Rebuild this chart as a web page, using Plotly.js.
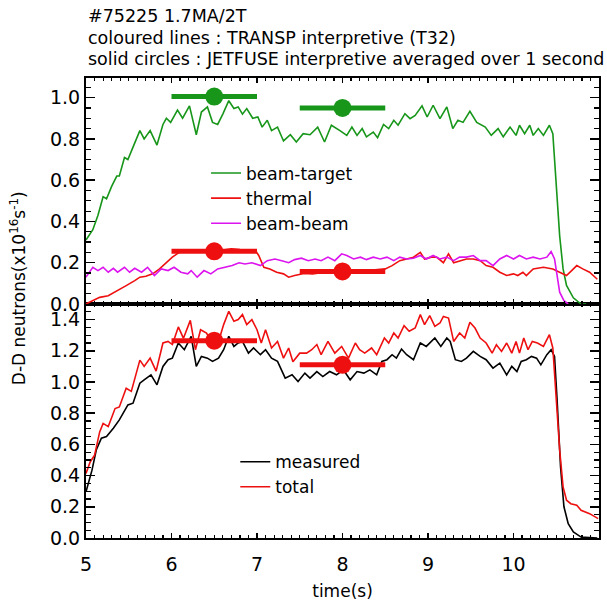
<!DOCTYPE html>
<html>
<head>
<meta charset="utf-8">
<script src="https://cdn.plot.ly/plotly-3.0.1.min.js"></script>
<style>html,body{margin:0;padding:0;background:#fff;}#chart{width:607px;height:602px;}</style>
</head>
<body>
<div id="chart"></div>
<script>
// ---- data (time in s, rate in 1e16 n/s) ----
const btT = [5.00,5.08,5.14,5.20,5.24,5.30,5.36,5.39,5.45,5.49,5.55,5.63,5.68,5.75,5.83,5.90,5.94,5.99,6.07,6.13,6.21,6.29,6.35,6.42,6.48,6.54,6.60,6.67,6.73,6.78,6.83,6.88,6.95,7.01,7.06,7.12,7.17,7.24,7.31,7.39,7.46,7.54,7.62,7.71,7.79,7.87,7.97,8.05,8.11,8.17,8.23,8.28,8.36,8.41,8.48,8.54,8.60,8.65,8.73,8.79,8.85,8.93,8.99,9.06,9.14,9.22,9.29,9.35,9.41,9.49,9.57,9.67,9.74,9.82,9.88,9.96,10.03,10.07,10.13,10.19,10.23,10.29,10.35,10.42,10.46,10.50,10.54,10.58,10.62,10.70,10.79,10.85];
const btV = [0.31,0.36,0.43,0.52,0.51,0.57,0.62,0.62,0.71,0.70,0.76,0.84,0.80,0.84,0.77,0.87,0.90,0.88,0.94,0.90,0.96,0.82,0.93,0.955,0.88,0.87,0.92,0.985,0.947,0.955,0.92,0.947,0.90,0.906,0.857,0.89,0.84,0.857,0.79,0.82,0.785,0.825,0.82,0.857,0.785,0.866,0.84,0.817,0.857,0.817,0.85,0.81,0.833,0.806,0.87,0.85,0.89,0.866,0.922,0.898,0.914,0.96,0.906,0.963,0.898,0.955,0.85,0.89,0.88,0.934,0.88,0.857,0.817,0.85,0.81,0.857,0.817,0.866,0.825,0.866,0.817,0.85,0.817,0.866,0.825,0.59,0.33,0.17,0.09,0.03,0.0,0.0];

const thT = [5.00,5.08,5.16,5.26,5.36,5.47,5.57,5.63,5.70,5.78,5.86,5.94,6.01,6.09,6.2,6.3,6.4,6.5,6.6,6.7,6.8,6.9,6.98,7.02,7.08,7.15,7.23,7.31,7.37,7.44,7.55,7.65,7.75,7.85,7.95,8.05,8.15,8.25,8.35,8.45,8.50,8.58,8.67,8.75,8.83,8.91,8.96,9.04,9.10,9.18,9.24,9.30,9.37,9.45,9.53,9.61,9.68,9.76,9.84,9.92,10.00,10.05,10.11,10.15,10.23,10.35,10.46,10.54,10.62,10.68,10.74,10.81,10.89,10.98];
const thV = [0.0,0.016,0.032,0.04,0.065,0.089,0.113,0.13,0.134,0.146,0.17,0.2,0.227,0.25,0.258,0.262,0.26,0.265,0.262,0.268,0.264,0.262,0.26,0.235,0.178,0.17,0.154,0.146,0.13,0.138,0.148,0.145,0.152,0.155,0.158,0.16,0.162,0.165,0.165,0.168,0.17,0.186,0.21,0.218,0.227,0.25,0.218,0.227,0.227,0.2,0.243,0.2,0.21,0.218,0.218,0.21,0.186,0.178,0.154,0.138,0.146,0.138,0.154,0.138,0.17,0.178,0.17,0.154,0.138,0.162,0.186,0.17,0.154,0.12];

const bbT = [5.00,5.08,5.14,5.20,5.26,5.32,5.37,5.45,5.51,5.57,5.65,5.72,5.80,5.88,5.96,6.03,6.11,6.19,6.23,6.30,6.38,6.46,6.54,6.63,6.71,6.79,6.86,6.94,7.04,7.12,7.21,7.29,7.37,7.44,7.52,7.60,7.68,7.75,7.83,7.91,7.99,8.05,8.13,8.21,8.28,8.36,8.44,8.52,8.60,8.67,8.75,8.83,8.91,8.98,9.06,9.14,9.22,9.30,9.37,9.45,9.53,9.61,9.68,9.76,9.84,9.92,10.00,10.07,10.15,10.23,10.31,10.39,10.44,10.48,10.51,10.54,10.59,10.64];
const bbV = [0.13,0.178,0.162,0.178,0.154,0.173,0.154,0.178,0.154,0.173,0.154,0.178,0.138,0.17,0.162,0.178,0.154,0.146,0.162,0.13,0.162,0.146,0.17,0.178,0.186,0.2,0.194,0.2,0.186,0.21,0.218,0.21,0.2,0.215,0.222,0.21,0.218,0.21,0.227,0.21,0.243,0.235,0.218,0.227,0.215,0.227,0.218,0.227,0.21,0.227,0.218,0.222,0.235,0.218,0.235,0.218,0.227,0.21,0.227,0.227,0.235,0.21,0.21,0.186,0.218,0.235,0.218,0.235,0.218,0.227,0.218,0.227,0.254,0.218,0.138,0.057,0.016,0.0];

const totT = [5.00,5.05,5.10,5.16,5.20,5.26,5.34,5.39,5.47,5.53,5.63,5.68,5.75,5.82,5.90,5.96,6.01,6.08,6.14,6.22,6.28,6.34,6.41,6.48,6.55,6.61,6.67,6.73,6.78,6.83,6.88,6.94,7.00,7.05,7.10,7.17,7.24,7.31,7.37,7.42,7.50,7.58,7.64,7.70,7.75,7.83,7.91,7.99,8.07,8.15,8.20,8.26,8.34,8.40,8.49,8.54,8.60,8.65,8.72,8.78,8.85,8.91,8.96,9.02,9.08,9.14,9.18,9.24,9.30,9.37,9.43,9.49,9.55,9.61,9.68,9.75,9.80,9.86,9.92,9.98,10.03,10.07,10.12,10.17,10.22,10.28,10.35,10.42,10.46,10.50,10.54,10.58,10.62,10.67,10.74,10.79,10.89,10.99];
const totV = [0.414,0.489,0.53,0.68,0.735,0.714,0.83,0.84,0.96,0.94,1.14,1.10,1.153,1.07,1.25,1.26,1.24,1.353,1.28,1.395,1.207,1.335,1.314,1.24,1.26,1.368,1.453,1.389,1.40,1.432,1.368,1.40,1.335,1.25,1.335,1.218,1.26,1.153,1.218,1.13,1.185,1.185,1.207,1.24,1.175,1.26,1.185,1.228,1.153,1.25,1.207,1.185,1.218,1.175,1.282,1.25,1.314,1.282,1.361,1.325,1.346,1.432,1.368,1.425,1.357,1.378,1.42,1.41,1.26,1.314,1.282,1.383,1.346,1.282,1.25,1.185,1.239,1.196,1.25,1.185,1.26,1.185,1.282,1.207,1.26,1.25,1.228,1.303,1.218,0.885,0.564,0.328,0.242,0.22,0.21,0.178,0.156,0.124];

const measT = [5.00,5.07,5.12,5.18,5.24,5.32,5.39,5.49,5.55,5.63,5.68,5.76,5.83,5.90,5.96,6.01,6.08,6.15,6.23,6.29,6.35,6.42,6.48,6.55,6.61,6.67,6.73,6.78,6.83,6.90,6.96,7.04,7.10,7.17,7.24,7.33,7.41,7.48,7.56,7.62,7.70,7.77,7.85,7.93,8.01,8.09,8.17,8.25,8.32,8.40,8.46,8.52,8.58,8.63,8.69,8.75,8.83,8.91,8.98,9.08,9.15,9.22,9.26,9.32,9.39,9.45,9.53,9.61,9.68,9.76,9.84,9.92,9.98,10.04,10.09,10.15,10.21,10.27,10.32,10.39,10.44,10.48,10.51,10.55,10.59,10.64,10.70,10.79,10.98];
const measV = [0.296,0.435,0.564,0.64,0.65,0.703,0.757,0.853,0.864,0.992,1.014,1.046,0.982,1.10,1.143,1.153,1.25,1.207,1.293,1.10,1.164,1.153,1.132,1.153,1.207,1.293,1.228,1.25,1.26,1.185,1.218,1.175,1.207,1.153,1.132,1.025,1.046,1.003,1.057,1.025,1.067,1.035,1.067,1.046,1.078,1.014,1.067,1.057,1.078,1.046,1.132,1.143,1.175,1.153,1.211,1.175,1.143,1.25,1.228,1.282,1.228,1.282,1.26,1.143,1.132,1.153,1.196,1.164,1.143,1.089,1.121,1.046,1.10,1.067,1.132,1.143,1.164,1.153,1.11,1.175,1.207,1.164,0.885,0.457,0.2,0.092,0.039,0.006,0.0];

// JETFUSE 1-second averages (centre time, half-width 0.5 s)
const jfT = [6.5, 8.0];
const jfHalf = 0.5;
const jfBeamTarget = [1.005, 0.95];
const jfThermal = [0.255, 0.158];
const jfTotal = [1.265, 1.11];

const titleLines = ['#75225 1.7MA/2T',
  'coloured lines : TRANSP interpretive (T32)',
  'solid circles : JETFUSE interpretive averaged over 1 second'];

// ---- styles ----
const GREEN = '#17961a', RED = '#ee1010', MAG = '#dc14ee', BLACK = '#000000';
const FONT = 'DejaVu Sans';
const LW = 1.6;

function line(x, y, color, name, xa, ya, legend) {
  return {x: x, y: y, type: 'scatter', mode: 'lines', name: name,
    line: {color: color, width: LW, shape: 'linear'},
    xaxis: xa, yaxis: ya, legend: legend, hoverinfo: 'skip'};
}
function dots(y, color, xa, ya) {
  return {x: jfT, y: y, type: 'scatter', mode: 'markers', showlegend: false,
    marker: {color: color, size: 18, line: {width: 0}},
    error_x: {type: 'constant', value: jfHalf, thickness: 5, width: 0, color: color},
    xaxis: xa, yaxis: ya, hoverinfo: 'skip'};
}

const traces = [
  line(btT, btV, GREEN, 'beam-target', 'x2', 'y2', 'legend'),
  line(thT, thV, RED, 'thermal', 'x2', 'y2', 'legend'),
  line(bbT, bbV, MAG, 'beam-beam', 'x2', 'y2', 'legend'),
  dots(jfBeamTarget, GREEN, 'x2', 'y2'),
  dots(jfThermal, RED, 'x2', 'y2'),
  line(measT, measV, BLACK, 'measured', 'x', 'y', 'legend2'),
  line(totT, totV, RED, 'total', 'x', 'y', 'legend2'),
  dots(jfTotal, RED, 'x', 'y')
];

const split = 0.5087;
const axBase = {showline: true, linecolor: '#000', linewidth: 2, mirror: 'allticks',
  ticks: 'inside', tickcolor: '#000', tickwidth: 1.5, showgrid: false, zeroline: false,
  tickfont: {family: FONT, size: 19, color: '#000'}};

// title lines as paper annotations (centres at ~16, 38, 59 px from top)
const titleY = [1.1348, 1.0870, 1.0413];
const annotations = titleLines.map((t, i) => ({text: t, xref: 'paper', yref: 'paper',
  x: 0, y: titleY[i], xanchor: 'left', yanchor: 'middle', showarrow: false,
  font: {family: FONT, size: 17.5, color: '#000'}}));
annotations.push({text: 'D-D neutrons(x10<sup>16</sup>s<sup>-1</sup>)', textangle: -90,
  xref: 'paper', yref: 'paper', x: -0.1326, y: 0.543, xanchor: 'center', yanchor: 'middle',
  showarrow: false, font: {family: FONT, size: 17, color: '#000'}});

const layout = {
  width: 607, height: 602,
  margin: {l: 86, r: 8, t: 78, b: 64, pad: 0},
  paper_bgcolor: '#fff', plot_bgcolor: '#fff',
  font: {family: FONT, color: '#000'},
  showlegend: true,
  xaxis: Object.assign({}, axBase, {anchor: 'y', range: [5, 11], dtick: 1, tick0: 5, ticklen: 5,
    ticklabelstandoff: 8,
    minor: {dtick: 0.1, tick0: 5, ticks: 'inside', ticklen: 3, tickcolor: '#000', tickwidth: 1.2, showgrid: false},
    title: {text: 'time(s)', font: {family: FONT, size: 17, color: '#000'}, standoff: 11}}),
  xaxis2: Object.assign({}, axBase, {anchor: 'y2', matches: 'x', range: [5, 11], dtick: 1, tick0: 5, ticklen: 5,
    showticklabels: false,
    minor: {dtick: 0.1, tick0: 5, ticks: 'inside', ticklen: 3, tickcolor: '#000', tickwidth: 1.2, showgrid: false}}),
  yaxis: Object.assign({}, axBase, {anchor: 'x', domain: [0, split], range: [0, 1.5], dtick: 0.2, tick0: 0,
    tickformat: '.1f', ticklen: 9,
    minor: {dtick: 0.05, tick0: 0, ticks: 'inside', ticklen: 5, tickcolor: '#000', tickwidth: 1.2, showgrid: false}}),
  yaxis2: Object.assign({}, axBase, {anchor: 'x2', domain: [split, 1], range: [0, 1.095], dtick: 0.2, tick0: 0,
    tickformat: '.1f', ticklen: 9,
    minor: {dtick: 0.05, tick0: 0, ticks: 'inside', ticklen: 5, tickcolor: '#000', tickwidth: 1.2, showgrid: false}}),
  legend: {x: 0.234, y: 0.8315, xanchor: 'left', yanchor: 'top', bgcolor: 'rgba(0,0,0,0)',
    borderwidth: 0, font: {family: FONT, size: 17, color: '#000'}, traceorder: 'normal', tracegroupgap: 0},
  legend2: {x: 0.291, y: 0.204, xanchor: 'left', yanchor: 'top', bgcolor: 'rgba(0,0,0,0)',
    borderwidth: 0, font: {family: FONT, size: 17, color: '#000'}, traceorder: 'normal', tracegroupgap: 0},
  annotations: annotations
};

Plotly.newPlot('chart', traces, layout, {displayModeBar: false, staticPlot: true});
</script>
</body>
</html>
